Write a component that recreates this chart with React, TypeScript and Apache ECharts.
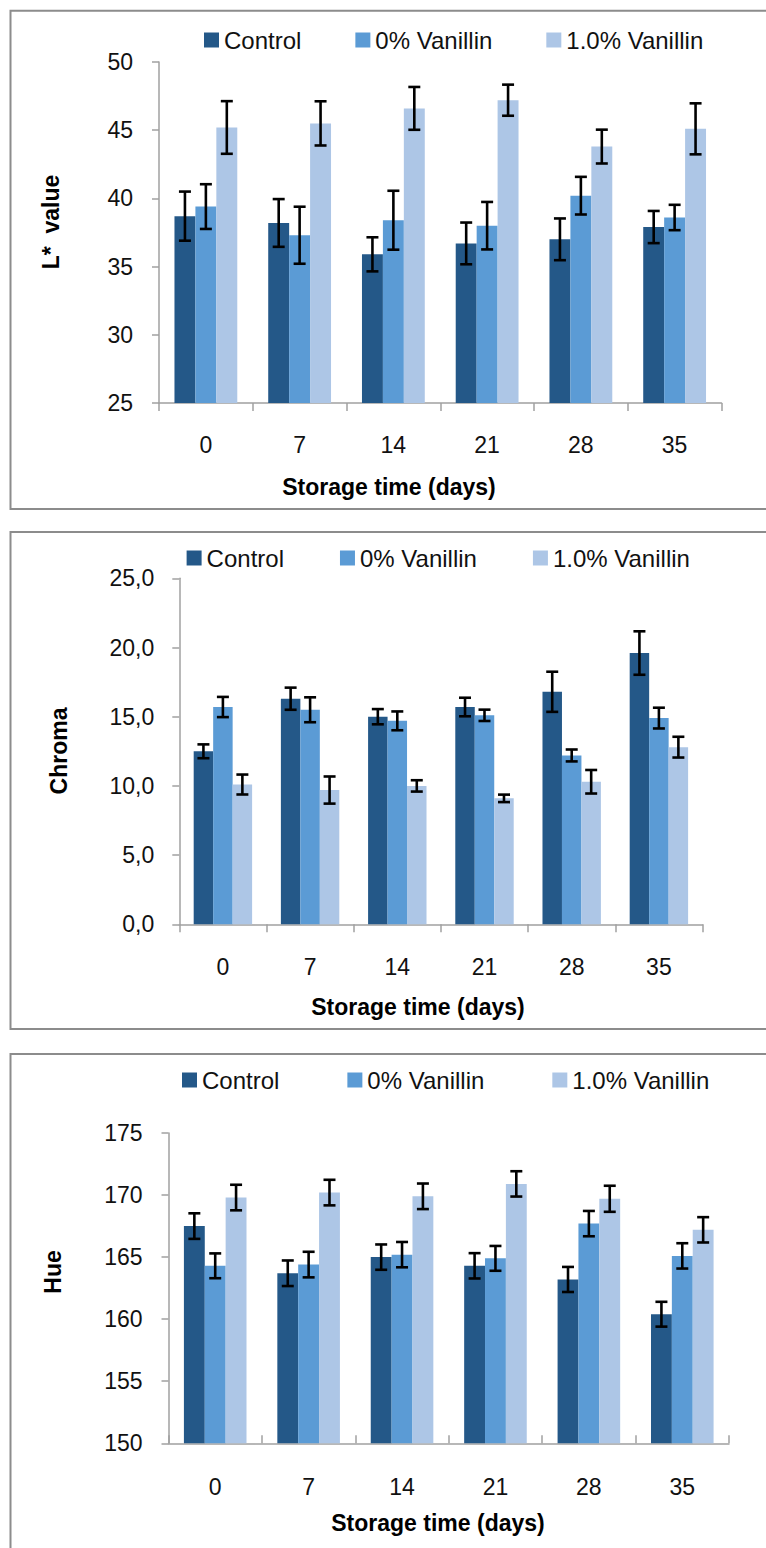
import React, { useEffect, useRef } from "react";
import * as echarts from "echarts";

const days = ["0", "7", "14", "21", "28", "35"];
const seriesNames = ["Control", "0% Vanillin", "1.0% Vanillin"];
const colors = ["#245888", "#5B9BD5", "#ADC6E6"];

// L* value
const lControl = [38.7, 38.2, 35.9, 36.7, 37.0, 37.9];
const lControlErr = [1.8, 1.75, 1.25, 1.53, 1.53, 1.18];
const lVan0 = [39.4, 37.3, 38.4, 38.0, 40.2, 38.6];
const lVan0Err = [1.64, 2.09, 2.16, 1.74, 1.38, 0.93];
const lVan1 = [45.2, 45.5, 46.6, 47.2, 43.8, 45.1];
const lVan1Err = [1.93, 1.62, 1.57, 1.14, 1.24, 1.87];

// Chroma
const cControl = [12.5, 16.3, 15.0, 15.7, 16.8, 19.6];
const cControlErr = [0.5, 0.8, 0.55, 0.67, 1.45, 1.57];
const cVan0 = [15.7, 15.5, 14.7, 15.1, 12.2, 14.9];
const cVan0Err = [0.73, 0.9, 0.68, 0.41, 0.43, 0.75];
const cVan1 = [10.1, 9.7, 10.0, 9.1, 10.3, 12.8];
const cVan1Err = [0.72, 0.98, 0.41, 0.27, 0.85, 0.75];

// Hue
const hControl = [167.5, 163.7, 165.0, 164.3, 163.2, 160.4];
const hControlErr = [1.03, 1.03, 1.02, 1.02, 1.01, 1.0];
const hVan0 = [164.3, 164.4, 165.2, 164.9, 167.7, 165.1];
const hVan0Err = [1.0, 1.03, 1.02, 1.0, 1.02, 1.02];
const hVan1 = [169.8, 170.2, 169.9, 170.9, 169.7, 167.2];
const hVan1Err = [1.03, 1.03, 1.03, 1.02, 1.05, 1.02];

const FONT = "Liberation Sans";
const GAP = 0.33;

function errorSeries(idx: number, values: number[], errs: number[], pos: number) {
  return {
    type: "custom",
    xAxisIndex: idx,
    yAxisIndex: idx,
    silent: true,
    z: 10,
    encode: { x: 0, y: [1, 2] },
    data: values.map((v, i) => [i, v - errs[i], v + errs[i]]),
    renderItem: (params: any, api: any) => {
      const c = api.value(0);
      const lo = api.coord([c, api.value(1)]);
      const hi = api.coord([c, api.value(2)]);
      const band = api.size([1, 0])[0];
      const bw = (band * (1 - GAP)) / 3;
      const x = lo[0] + (pos - 1) * bw;
      const hw = 6;
      const st = { stroke: "#000", lineWidth: 2.6 };
      return {
        type: "group",
        children: [
          { type: "line", shape: { x1: x, y1: hi[1], x2: x, y2: lo[1] }, style: st },
          { type: "line", shape: { x1: x - hw, y1: hi[1], x2: x + hw, y2: hi[1] }, style: st },
          { type: "line", shape: { x1: x - hw, y1: lo[1], x2: x + hw, y2: lo[1] }, style: st },
        ],
      };
    },
  };
}

function barSeries(idx: number, name: string, values: number[], color: string) {
  return {
    type: "bar",
    name,
    xAxisIndex: idx,
    yAxisIndex: idx,
    data: values,
    barGap: "0%",
    barCategoryGap: GAP * 100 + "%",
    itemStyle: { color },
  };
}

export default function App() {
  const ref = useRef<HTMLDivElement>(null);
  useEffect(() => {
    if (!ref.current) return;
    const chart = echarts.init(ref.current, undefined, { renderer: "svg" });

    const grids = [
      { left: 159, top: 62, width: 562.5, height: 341 },
      { left: 179.3, top: 578.3, width: 523.2, height: 346 },
      { left: 168.5, top: 1133, width: 560.5, height: 310.3 },
    ];
    const yRanges = [
      [25, 50],
      [0, 25],
      [150, 175],
    ];
    const labelMargins = [30, 31, 32];
    const yMargins = [26, 25, 26];
    const tickInside = [false, false, true];

    const axisLineStyle = { color: "#A0A0A0", width: 1.5 };
    const labelStyle = { fontFamily: FONT, fontSize: 23, color: "#111" };

    const xAxis = grids.map((_, i) => ({
      type: "category",
      gridIndex: i,
      data: days,
      axisLine: { show: true, lineStyle: axisLineStyle },
      axisTick: { show: true, inside: tickInside[i], length: 8, lineStyle: axisLineStyle },
      axisLabel: { ...labelStyle, margin: labelMargins[i], interval: 0 },
      splitLine: { show: false },
    }));
    const yAxis = grids.map((_, i) => ({
      type: "value",
      gridIndex: i,
      min: yRanges[i][0],
      max: yRanges[i][1],
      interval: 5,
      axisLine: { show: true, lineStyle: axisLineStyle },
      axisTick: { show: true, length: 7, lineStyle: axisLineStyle },
      axisLabel: {
        ...labelStyle,
        margin: yMargins[i],
        formatter: i === 1 ? (v: number) => v.toFixed(1).replace(".", ",") : undefined,
      },
      splitLine: { show: false },
    }));

    const legendPos = [
      { left: 204, top: 28, gap: 54 },
      { left: 186.6, top: 546, gap: 56 },
      { left: 182, top: 1068, gap: 68 },
    ];
    const legend = legendPos.map((p) => ({
      left: p.left,
      top: p.top,
      padding: 0,
      itemGap: p.gap,
      itemWidth: 15,
      itemHeight: 15,
      icon: "rect",
      data: seriesNames,
      selectedMode: false,
      textStyle: { fontFamily: FONT, fontSize: 24, color: "#111", lineHeight: 24 },
    }));

    const series: any[] = [];
    const panels = [
      [lControl, lVan0, lVan1, lControlErr, lVan0Err, lVan1Err],
      [cControl, cVan0, cVan1, cControlErr, cVan0Err, cVan1Err],
      [hControl, hVan0, hVan1, hControlErr, hVan0Err, hVan1Err],
    ];
    panels.forEach((p, i) => {
      for (let k = 0; k < 3; k++) series.push(barSeries(i, seriesNames[k], p[k], colors[k]));
      for (let k = 0; k < 3; k++) series.push(errorSeries(i, p[k], p[k + 3], k));
    });

    const borderStyle = { stroke: "#8C8C8C", lineWidth: 2, fill: "none" };
    const titleStyle = (text: string) => ({
      text,
      fontFamily: FONT,
      fontSize: 23,
      fontWeight: "bold",
      fill: "#000",
      align: "center",
      verticalAlign: "middle",
    });

    const graphic = [
      { type: "polyline", shape: { points: [[766, 10.7], [10.5, 10.7], [10.5, 509], [766, 509]] }, style: borderStyle, silent: true },
      { type: "polyline", shape: { points: [[766, 532], [10.5, 532], [10.5, 1029], [766, 1029]] }, style: borderStyle, silent: true },
      { type: "polyline", shape: { points: [[766, 1054], [10.5, 1054], [10.5, 1550]] }, style: borderStyle, silent: true },
      { type: "text", x: 389, y: 487, style: titleStyle("Storage time (days)") },
      { type: "text", x: 51, y: 222, rotation: Math.PI / 2, style: titleStyle("L*\u00A0\u00A0value") },
      { type: "text", x: 418, y: 1007, style: titleStyle("Storage time (days)") },
      { type: "text", x: 58.6, y: 751, rotation: Math.PI / 2, style: titleStyle("Chroma") },
      { type: "text", x: 438, y: 1523, style: titleStyle("Storage time (days)") },
      { type: "text", x: 52.8, y: 1272, rotation: Math.PI / 2, style: titleStyle("Hue") },
    ];

    chart.setOption({
      animation: false,
      backgroundColor: "#fff",
      grid: grids,
      xAxis,
      yAxis,
      legend,
      series,
      graphic,
    });
    return () => chart.dispose();
  }, []);
  return (
    <div
      ref={ref}
      style={{ position: "absolute", left: 0, top: 0, width: 766, height: 1548, background: "#fff" }}
    />
  );
}
